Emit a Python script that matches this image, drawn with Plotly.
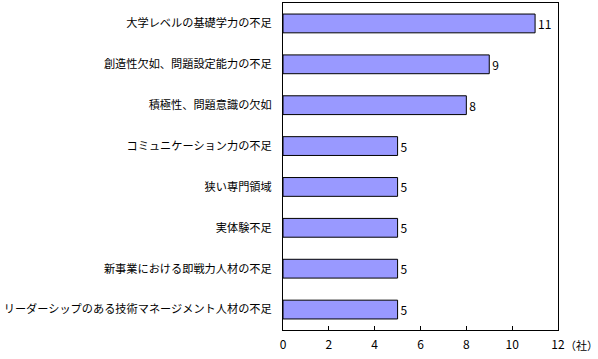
import plotly.graph_objects as go

categories = [
    "大学レベルの基礎学力の不足",
    "創造性欠如、問題設定能力の不足",
    "積極性、問題意識の欠如",
    "コミュニケーション力の不足",
    "狭い専門領域",
    "実体験不足",
    "新事業における即戦力人材の不足",
    "リーダーシップのある技術マネージメント人材の不足",
]
values = [11, 9, 8, 5, 5, 5, 5, 5]
x_ticks = [0, 2, 4, 6, 8, 10, 12]
unit_label = "（社）"

FONT = "Noto Sans CJK JP"

fig = go.Figure(
    go.Bar(
        x=values,
        y=categories,
        orientation="h",
        marker=dict(color="#9999FF", line=dict(color="#000000", width=1)),
        width=0.46,
        text=[str(v) for v in values],
        textposition="outside",
        textfont=dict(family=FONT, size=12, color="#000000"),
        cliponaxis=False,
    )
)

fig.update_layout(
    width=598,
    height=359,
    autosize=False,
    margin=dict(l=283, r=40, t=3, b=29),
    paper_bgcolor="white",
    plot_bgcolor="white",
    showlegend=False,
    font=dict(family=FONT, size=12, color="#000000"),
    xaxis=dict(
        range=[0, 12],
        tickvals=x_ticks,
        ticktext=[str(t) for t in x_ticks],
        ticks="inside",
        ticklen=4,
        tickcolor="#000000",
        showgrid=False,
        zeroline=False,
        showline=True,
        linecolor="#000000",
        linewidth=1,
        mirror=True,
        automargin=False,
        tickfont=dict(family=FONT, size=12, color="#000000"),
        ticklabelstandoff=4,
    ),
    yaxis=dict(
        autorange="reversed",
        showgrid=False,
        zeroline=False,
        showline=True,
        linecolor="#000000",
        linewidth=1,
        mirror=True,
        ticks="",
        automargin=False,
        tickfont=dict(family=FONT, size=11.2, color="#000000"),
        ticklabelstandoff=8,
    ),
    annotations=[
        dict(
            x=12,
            y=0,
            xref="x",
            yref="paper",
            text=unit_label,
            showarrow=False,
            xanchor="left",
            yanchor="top",
            xshift=5,
            yshift=-5,
            font=dict(family=FONT, size=11, color="#000000"),
        )
    ],
)

fig.write_html(
    "out.html",
    config={"displayModeBar": False},
    post_script="document.body.style.margin='0';document.body.style.padding='0';",
)
